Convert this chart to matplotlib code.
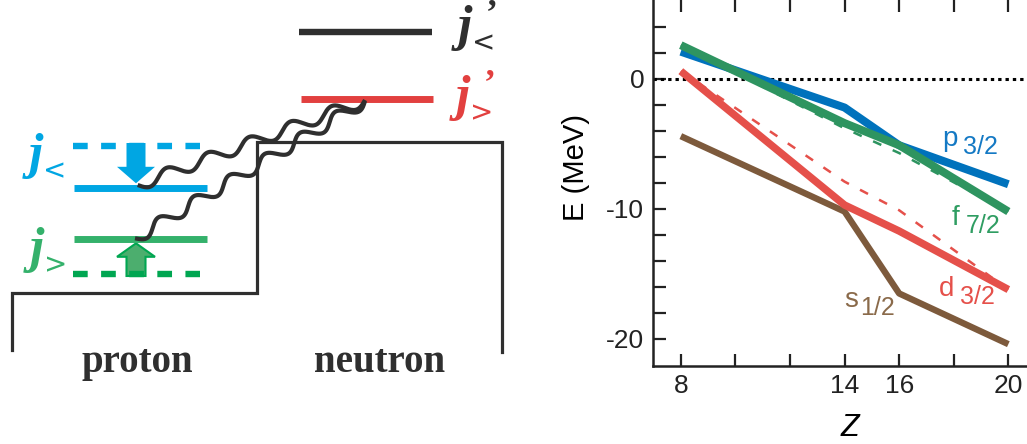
import numpy as np
import matplotlib.pyplot as plt
from matplotlib.patches import FancyArrow

# data: single-particle energies vs proton number Z
z = [8, 14, 16, 20]
e_p32 = [2.1, -2.2, -5.1, -8.1]
e_f72 = [2.6, -3.4, -5.1, -10.2]
e_f72_dash = [2.6, -3.8, -5.7, -10.2]
e_d32 = [0.6, -9.7, -11.7, -16.2]
e_d32_dash = [0.6, -7.9, -10.1, -16.2]
e_s12 = [-4.4, -10.2, -16.5, -20.4]

xtick_pos = [8, 10, 12, 14, 16, 18, 20]
xtick_lab = ['8', '', '', '14', '16', '', '20']
ytick_pos = list(range(-20, 5, 2))
ytick_lab = [str(v) if v % 10 == 0 else '' for v in ytick_pos]

c_blue = '#0072bc'
c_green = '#2e9460'
c_red = '#e5504a'
c_brown = '#7d5a3c'
c_dark = '#2f2f2f'

fig = plt.figure(figsize=(10.27, 4.44), dpi=100)

# ---------- left: schematic, pixel coordinates ----------
ax0 = fig.add_axes([0, 0, 1, 1])
ax0.set_xlim(0, 1027)
ax0.set_ylim(444, 0)
ax0.axis('off')

# potential wells
ax0.plot([11.7, 11.7, 256.7, 256.7, 501.7, 501.7],
         [350, 293.3, 293.3, 141.7, 141.7, 351.7],
         color=c_dark, lw=2.3, solid_joinstyle='miter')

# neutron levels
ax0.plot([299, 432], [31.7, 31.7], color=c_dark, lw=4.6, solid_capstyle='butt')
ax0.plot([301, 433], [99, 99], color='#e2403f', lw=5.0, solid_capstyle='butt')

# proton levels
ax0.plot([73.3, 200], [146, 146], color='#00a6e3', lw=4.6, dashes=(2.3, 2.1),
         solid_capstyle='butt', dash_capstyle='butt')
ax0.plot([74, 206.7], [187.7, 187.7], color='#00a6e3', lw=5.0, solid_capstyle='butt')
ax0.plot([74, 206.7], [239.3, 239.3], color='#34b16b', lw=5.0, solid_capstyle='butt')
ax0.plot([73.3, 200], [274, 274], color='#00a651', lw=4.6, dashes=(2.3, 2.1),
         solid_capstyle='butt', dash_capstyle='butt')

ax0.add_patch(FancyArrow(136, 143, 0, 40.3, width=19, head_width=38, head_length=16.5,
                         length_includes_head=True, color='#00a6e3', lw=0))
ax0.add_patch(FancyArrow(136, 276, 0, -32.7, width=19, head_width=38, head_length=13.5,
                         length_includes_head=True, facecolor='#4cae6e',
                         edgecolor='#00a651', lw=1.5))

# wavy couplings
for (x0, y0), (x1, y1), n in [((137.7, 185), (365, 100), 5.5),
                              ((135, 238.3), (365, 101), 6.5)]:
    t = np.linspace(0, 1, 400)
    dx, dy = x1 - x0, y1 - y0
    L = np.hypot(dx, dy)
    nx, ny = -dy / L, dx / L
    off = 6.0 * np.sin(2 * np.pi * n * t)
    ax0.plot(x0 + t * dx + off * nx, y0 + t * dy + off * ny,
             color=c_dark, lw=3.0, solid_capstyle='butt')

# level labels
jfont = dict(family='Liberation Serif', weight='bold', style='italic', fontsize=37)
for xj, yj, col, sub in [(36, 156, '#00a6e3', '<'), (37, 250, '#34b16b', '>'),
                         (465, 28, c_dark, '<'), (463, 98, '#e2403f', '>')]:
    ax0.text(xj, yj, 'j', color=col, ha='center', va='center', **jfont)
    ax0.text(xj + 19, yj + 15, sub, color=col, ha='center', va='center',
             family='DejaVu Sans', fontsize=20)
    if xj > 400:
        ax0.text(xj + 27, yj - 13, '\u2019', color=col, ha='center', va='center',
                 family='Liberation Serif', weight='bold', fontsize=26)

ax0.text(137, 362, 'proton', ha='center', va='center', color=c_dark,
         family='Liberation Serif', weight='bold', fontsize=28)
ax0.text(380, 362, 'neutron', ha='center', va='center', color=c_dark,
         family='Liberation Serif', weight='bold', fontsize=28)

# orbital labels (figure pixel coords)
for xl, yl, xs, name, sub, col in [(950, 139, 980, 'p', '3/2', '#1479c4'),
                                   (956, 218, 983, 'f', '7/2', '#2f9d62'),
                                   (947, 289, 977, 'd', '3/2', '#e5504a'),
                                   (851, 300, 877, 's', '1/2', '#8a6a4a')]:
    ax0.text(xl, yl, name, color=col, ha='center', va='center',
             family='Liberation Sans', fontsize=20)
    ax0.text(xs, yl + 8, sub, color=col, ha='center', va='center',
             family='Liberation Sans', fontsize=18)

# ---------- right: energies vs Z ----------
ax = fig.add_axes([652.7 / 1027, (444 - 366) / 444, (1031 - 652.7) / 1027, 367 / 444])
ax.patch.set_alpha(0)
ax.set_xlim(6.97, 20.83)
ax.set_ylim(-22.08, 6.15)

ax.axhline(0, color='black', lw=2.2, dashes=(1.1, 1.3))

ax.plot(z, e_s12, color=c_brown, lw=4.6, solid_capstyle='butt')
ax.plot(z, e_d32_dash, color=c_red, lw=1.8, dashes=(3.6, 5.0))
ax.plot(z, e_f72_dash, color=c_green, lw=1.8, dashes=(3.6, 5.0))
ax.plot(z, e_d32, color=c_red, lw=5.4, solid_capstyle='butt')
ax.plot(z, e_p32, color=c_blue, lw=5.8, solid_capstyle='butt')
ax.plot(z, e_f72, color=c_green, lw=5.8, solid_capstyle='butt')

ax.set_xticks(xtick_pos)
ax.set_xticklabels(xtick_lab)
ax.set_yticks(ytick_pos)
ax.set_yticklabels(ytick_lab)
ax.tick_params(direction='in', length=9, width=1.6, labelsize=19, top=True,
               colors='#222222', pad=6)
for lab in ax.get_xticklabels() + ax.get_yticklabels():
    lab.set_family('Liberation Sans')
for s in ax.spines.values():
    s.set_linewidth(1.8)
    s.set_color('#222222')

ax.set_ylabel('E (MeV)', family='Liberation Sans', fontsize=21)
ax.yaxis.set_label_coords(-0.166, 0.542)
ax.set_xlabel('Z', family='Liberation Sans', style='italic', fontsize=22)
ax.xaxis.set_label_coords(0.52, -0.128)

fig.savefig('out.png', dpi=100)
